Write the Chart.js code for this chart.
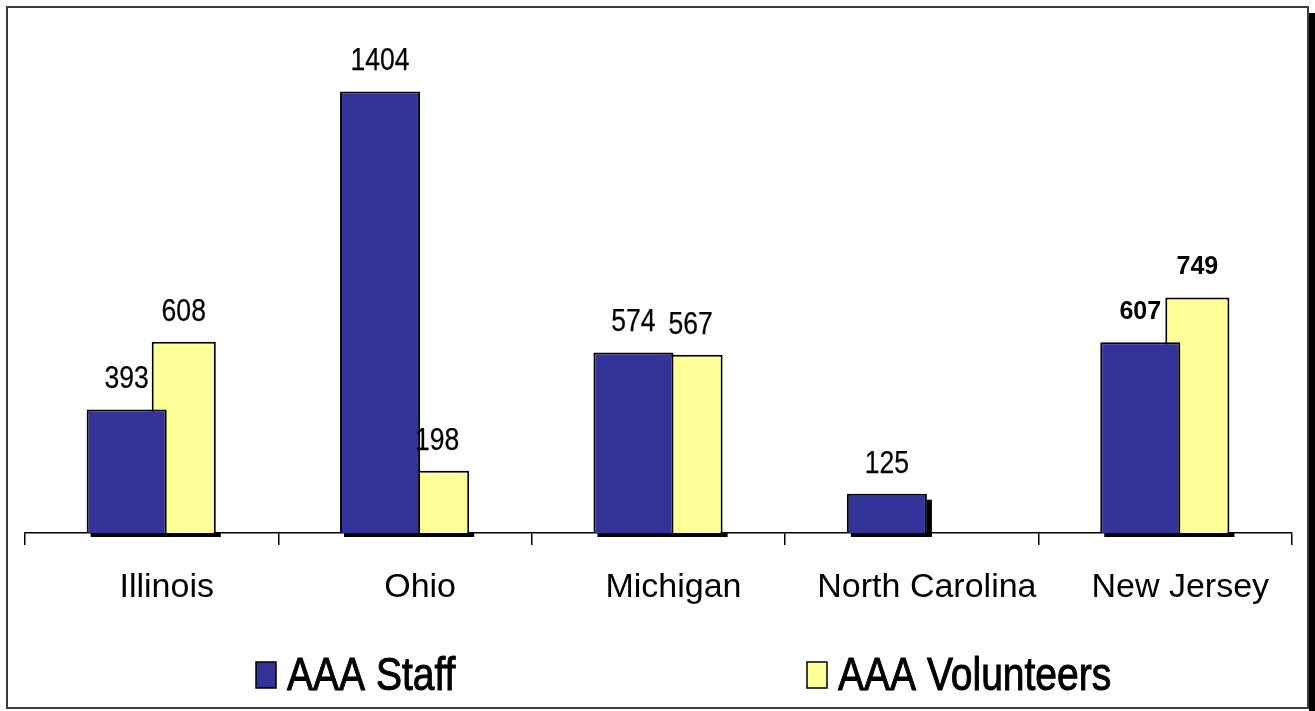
<!DOCTYPE html>
<html>
<head>
  <meta charset="UTF-8">
  <title>AAA Staff and Volunteers by State</title>
  <script src="https://cdn.jsdelivr.net/npm/chart.js"></script>
  <style>
    body { margin: 0; background: #fff; }
    #wrap { width: 1315px; height: 711px; }
  </style>
</head>
<body>
  <div id="wrap"><canvas id="stateChart"></canvas></div>

  <script>
    // chart values
    const states = ['Illinois', 'Ohio', 'Michigan', 'North Carolina', 'New Jersey'];
    const staff = [393, 1404, 574, 125, 607];
    const volunteers = [608, 198, 567, null, 749];
    const boldLabelStates = ['New Jersey'];

    const SANS = '"Liberation Sans", Arial, sans-serif';

    // condensed text: regular sans squeezed horizontally, optional outline for weight
    function narrowText(ctx, text, x, y, size, align, baseline, weight) {
      ctx.save();
      ctx.translate(x, y);
      ctx.scale(0.83, 1);
      ctx.font = size + 'px ' + SANS;
      ctx.textAlign = align;
      ctx.textBaseline = baseline;
      ctx.fillText(text, 0, 0);
      if (weight) {
        ctx.strokeStyle = ctx.fillStyle;
        ctx.lineWidth = weight;
        ctx.strokeText(text, 0, 0);
      }
      ctx.restore();
    }

    // white page with a grey frame and a dark drop edge on the right
    const framePlugin = {
      id: 'frame',
      beforeDraw(chart) {
        const ctx = chart.ctx;
        ctx.save();
        ctx.fillStyle = '#fff';
        ctx.fillRect(0, 0, chart.width, chart.height);
        ctx.fillStyle = '#000';
        ctx.fillRect(1309, 13, 6, chart.height - 13);
        ctx.strokeStyle = '#3c3c3c';
        ctx.lineWidth = 2;
        ctx.strokeRect(7, 7, 1301, 701);
        ctx.restore();
      }
    };

    // black shadow strip under each bar group, plus a side shadow for lone bars
    const shadowPlugin = {
      id: 'barShadow',
      afterDatasetsDraw(chart) {
        const ctx = chart.ctx;
        const base = chart.chartArea.bottom;
        ctx.save();
        ctx.fillStyle = '#000';
        states.forEach((s, i) => {
          const bars = chart.data.datasets
            .map((ds, d) => chart.getDatasetMeta(d).data[i])
            .filter((el, d) => el && chart.data.datasets[d].data[i] != null);
          if (!bars.length) return;
          const left = Math.min(...bars.map(b => b.x - b.width / 2));
          const right = Math.max(...bars.map(b => b.x + b.width / 2));
          ctx.fillRect(left + 4, base, right - left + 1, 4);
          if (bars.length === 1) {
            ctx.fillRect(right, bars[0].y + 6, 5, base - bars[0].y - 6);
          }
        });
        ctx.restore();
      }
    };

    // value labels above the bars
    const valueLabelPlugin = {
      id: 'valueLabels',
      afterDatasetsDraw(chart) {
        const ctx = chart.ctx;
        ctx.save();
        ctx.fillStyle = '#000';
        chart.data.datasets.forEach((ds, d) => {
          chart.getDatasetMeta(d).data.forEach((el, i) => {
            const v = ds.data[i];
            if (v == null) return;
            if (boldLabelStates.includes(states[i])) {
              ctx.font = 'bold 25px ' + SANS;
              ctx.textAlign = 'center';
              ctx.textBaseline = 'middle';
              ctx.fillText(String(v), el.x, el.y - 30);
            } else {
              narrowText(ctx, String(v), el.x, el.y - 30, 32, 'center', 'middle', 0.25);
            }
          });
        });
        ctx.restore();
      }
    };

    // legend row under the axis labels
    const legendX = [256, 807];
    const legendPlugin = {
      id: 'bottomLegend',
      afterDraw(chart) {
        const ctx = chart.ctx;
        ctx.save();
        chart.data.datasets.forEach((ds, d) => {
          const x = legendX[d];
          ctx.fillStyle = ds.backgroundColor;
          ctx.fillRect(x, 662, 20, 26);
          ctx.strokeStyle = '#000';
          ctx.lineWidth = 1.5;
          ctx.strokeRect(x, 662, 20, 26);
          ctx.fillStyle = '#000';
          narrowText(ctx, ds.label, x + 31, 690, 47, 'left', 'alphabetic', 1);
        });
        ctx.restore();
      }
    };

    new Chart(document.getElementById('stateChart'), {
      type: 'bar',
      data: {
        labels: states,
        datasets: [
          {
            label: 'AAA Staff',
            data: staff,
            backgroundColor: '#333399',
            borderColor: '#000',
            borderWidth: 2,
            categoryPercentage: 0.395,
            barPercentage: 1.6
          },
          {
            label: 'AAA Volunteers',
            data: volunteers,
            backgroundColor: '#FFFF99',
            borderColor: '#000',
            borderWidth: 2,
            categoryPercentage: 0.506,
            barPercentage: 1.0
          }
        ]
      },
      options: {
        responsive: true,
        maintainAspectRatio: false,
        animation: false,
        layout: { padding: { left: 25, right: 23, top: 30, bottom: 98 } },
        plugins: {
          legend: { display: false },
          tooltip: { enabled: false }
        },
        scales: {
          x: {
            afterFit(scale) { scale.height = 80; },
            border: { display: true, color: '#000', width: 1.5 },
            grid: {
              offset: true,
              drawOnChartArea: false,
              drawTicks: true,
              tickLength: 12,
              color: '#000',
              lineWidth: 1.5
            },
            ticks: {
              color: '#000',
              padding: 22,
              labelOffset: 15,
              maxRotation: 0,
              font: { family: SANS, size: 34 }
            }
          },
          y: {
            display: false,
            min: 0,
            max: 1600
          }
        }
      },
      plugins: [framePlugin, shadowPlugin, valueLabelPlugin, legendPlugin]
    });
  </script>
</body>
</html>
